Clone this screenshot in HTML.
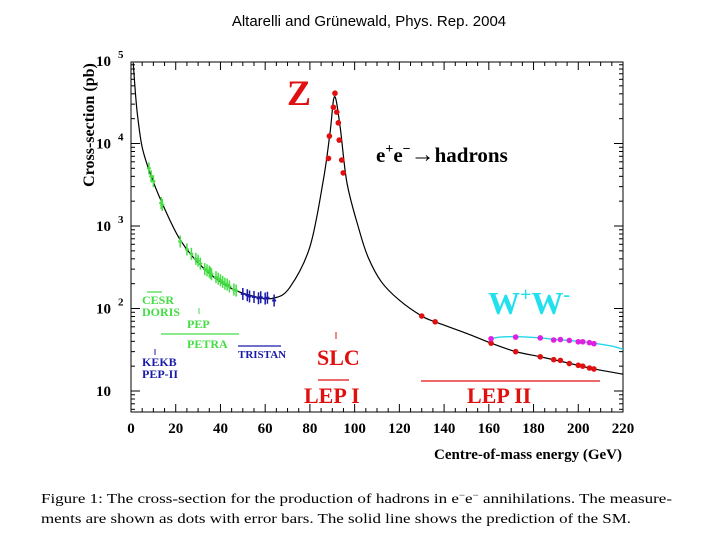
<!DOCTYPE html>
<html><head><meta charset="utf-8"><style>
html,body{margin:0;padding:0;background:#fff;}
svg{display:block;}
</style></head><body>
<svg id="chart" width="720" height="540" viewBox="0 0 720 540" xmlns="http://www.w3.org/2000/svg">
<text x="369" y="26" text-anchor="middle" font-family="Liberation Sans, sans-serif" font-size="15">Altarelli and Grünewald, Phys. Rep. 2004</text>
<g id="plot"></g>
<text transform="translate(94,125) rotate(-90)" text-anchor="middle" font-family="Liberation Serif, serif" font-weight="bold" font-size="16">Cross-section (pb)</text>
<text x="622" y="459" text-anchor="end" font-family="Liberation Serif, serif" font-weight="bold" font-size="15">Centre-of-mass energy (GeV)</text>
<text x="287" y="105" font-family="Liberation Serif, serif" font-weight="bold" font-size="36" fill="#e01010">Z</text>
<text x="376" y="162" font-family="Liberation Serif, serif" font-weight="bold" font-size="21">e<tspan dy="-9" font-size="14">+</tspan><tspan dy="9">e</tspan><tspan dy="-9" font-size="14">−</tspan><tspan dy="9" font-size="24">→</tspan><tspan>hadrons</tspan></text>
<text x="488" y="314" font-family="Liberation Serif, serif" font-weight="bold" font-size="32" fill="#22e0ee">W<tspan dy="-13" font-size="20">+</tspan><tspan dy="13">W</tspan><tspan dy="-13" font-size="20">-</tspan></text>
<g font-family="Liberation Serif, serif" font-weight="bold">
<line x1="147" y1="292" x2="162" y2="292" stroke="#44dd44" stroke-width="1.2"/>
<text x="142" y="304" font-size="12" fill="#44dd44">CESR</text>
<text x="142" y="316" font-size="12" fill="#44dd44">DORIS</text>
<line x1="199" y1="308" x2="199" y2="314" stroke="#44dd44"/>
<text x="187" y="328" font-size="12" fill="#44dd44">PEP</text>
<line x1="161" y1="334" x2="239" y2="334" stroke="#44dd44" stroke-width="1.2"/>
<text x="187" y="348" font-size="12" fill="#44dd44">PETRA</text>
<line x1="238" y1="346" x2="281" y2="346" stroke="#1a1aaa" stroke-width="1.2"/>
<text x="238" y="358" font-size="11" fill="#1a1aaa">TRISTAN</text>
<line x1="155" y1="349" x2="155" y2="355" stroke="#1a1aaa"/>
<text x="142" y="366" font-size="12" fill="#1a1aaa">KEKB</text>
<text x="142" y="378" font-size="12" fill="#1a1aaa">PEP-II</text>
<line x1="336" y1="332" x2="336" y2="339" stroke="#e01010"/>
<text x="317" y="365" font-size="22" fill="#e01010">SLC</text>
<line x1="318" y1="380" x2="349" y2="380" stroke="#e01010" stroke-width="1.2"/>
<text x="304" y="403" font-size="22" fill="#e01010">LEP I</text>
<line x1="421" y1="381" x2="600" y2="381" stroke="#e01010" stroke-width="1.2"/>
<text x="467" y="403" font-size="22" fill="#e01010">LEP II</text>
</g>
<g font-family="Liberation Serif, serif" font-size="14">
<text x="41" y="503" textLength="631" lengthAdjust="spacingAndGlyphs">Figure 1: The cross-section for the production of hadrons in e<tspan dy="-5" font-size="9">−</tspan><tspan dy="5">e</tspan><tspan dy="-5" font-size="9">−</tspan><tspan dy="5"> annihilations. The measure-</tspan></text>
<text x="41" y="523" textLength="590" lengthAdjust="spacingAndGlyphs">ments are shown as dots with error bars. The solid line shows the prediction of the SM.</text>
</g>
</svg>
<script>
const curveE = [1,2,3,5,8.5,13.9,22,32,44,56,64,71,80,86,89,91,93.5,96.6,102,106,112,120,130,136,150,161,172,183,195,207,220];
const curveSigma = [95000,40000,21000,9000,4400,1900,680,316,180,138,134,180,560,3600,13500,37000,16000,3300,900,420,210,126,81,69,50,38,30,26,22,18.5,16];
const wwE = [161,165,172,183,190,196,200,207,215,220];
const wwSigma = [43,45,45.5,44,42,41,40,38,35,32];
const greenE = [8,9,10,13.5,14,22,25,27,29,30,31,33,34,35,35.5,36,38,39,40,41,42,43,44,46,47];
const greenSigma = [5000,4000,3500,1900,1800,650,520,460,400,380,350,300,290,280,270,260,240,230,220,210,200,195,185,170,165];
const blueE = [50,52,53,55,57,58,60,61,64];
const blueSigma = [150,145,140,138,133,137,132,135,125];
const zE = [88.3,88.7,90.5,91.2,92.0,92.7,93.1,94.2,94.9];
const zSigma = [6600,12300,27500,40700,24000,17800,11000,6300,4400];
const lepE = [130,136,161,172,183,189,192,196,200,202,205,207];
const lepSigma = [81,69,38,30,26,24,23.5,21.5,20.5,20,19,18.5];
const wwDataE = [161,172,183,189,192,196,200,202,205,207];
const wwDataSigma = [43,45,44,41.5,42,41,39.5,39.5,38.5,37.5];
const xTicks = [0,20,40,60,80,100,120,140,160,180,200,220];

const X0=131,X1=623,Y1=62,Y0=412;
const sx = e => X0 + (e/220)*(X1-X0);
const sy = v => 391 - (Math.log10(v)-1)*82.5;
const NS='http://www.w3.org/2000/svg';
const plot=document.getElementById('plot');
function mk(tag,attrs,parent){const el=document.createElementNS(NS,tag);for(const k in attrs)el.setAttribute(k,attrs[k]);(parent||plot).appendChild(el);return el;}
function smooth(pts){let d='M'+pts[0][0]+','+pts[0][1];for(let i=0;i<pts.length-1;i++){const p0=pts[Math.max(0,i-1)],p1=pts[i],p2=pts[i+1],p3=pts[Math.min(pts.length-1,i+2)];const c1=[p1[0]+(p2[0]-p0[0])/6,p1[1]+(p2[1]-p0[1])/6];const c2=[p2[0]-(p3[0]-p1[0])/6,p2[1]-(p3[1]-p1[1])/6];d+=' C'+c1[0]+','+c1[1]+' '+c2[0]+','+c2[1]+' '+p2[0]+','+p2[1];}return d;}

const clip=mk('clipPath',{id:'cl'});mk('rect',{x:X0,y:Y1,width:X1-X0,height:Y0-Y1},clip);
const frame=mk('rect',{x:X0,y:Y1,width:X1-X0,height:Y0-Y1,fill:'none',stroke:'#000','stroke-width':1});


for(let e=0;e<=220;e+=5){const big=e%20===0;const len=big?8:4;
 mk('line',{x1:sx(e),x2:sx(e),y1:Y0,y2:Y0-len,stroke:'#000'});
 mk('line',{x1:sx(e),x2:sx(e),y1:Y1,y2:Y1+len,stroke:'#000'});}
xTicks.forEach(e=>{const t=mk('text',{x:sx(e),y:433,'text-anchor':'middle','font-family':'Liberation Serif, serif','font-weight':'bold','font-size':15});t.textContent=String(e);
 
 });
for(let dec=0;dec<=5;dec++){for(let m=1;m<10;m++){const v=m*Math.pow(10,dec);const y=sy(v);if(y<Y1-0.5||y>Y0+0.5)continue;const len=m===1?9:4;
 mk('line',{x1:X0,x2:X0+len,y1:y,y2:y,stroke:'#000'});mk('line',{x1:X1,x2:X1-len,y1:y,y2:y,stroke:'#000'});}}
[1,2,3,4,5].forEach(p=>{const y=sy(Math.pow(10,p));const t=mk('text',{x:96,y:y+5,'font-family':'Liberation Serif, serif','font-weight':'bold','font-size':15});t.textContent='10';
 
 
 if(p>1){const s=mk('text',{x:118,y:y-3,'font-family':'Liberation Serif, serif','font-weight':'bold','font-size':11});s.textContent=String(p);}});
const g=mk('g',{'clip-path':'url(#cl)'});
const sm=mk('path',{d:smooth(curveE.map((e,i)=>[sx(e),sy(curveSigma[i])])),fill:'none',stroke:'#000','stroke-width':1.2},g);


const ww=mk('path',{d:smooth(wwE.map((e,i)=>[sx(e),sy(wwSigma[i])])),fill:'none',stroke:'#22d8e8','stroke-width':1.4},g);


function bars(E,S,col,name){E.forEach((e,i)=>{const x=sx(e),y=sy(S[i]);
 const l=mk('line',{x1:x,x2:x,y1:y-6,y2:y+6,stroke:col,'stroke-width':1.5},g);
 
 
 mk('line',{x1:x-2,x2:x+2,y1:y,y2:y,stroke:col,'stroke-width':2},g);});}
bars(greenE,greenSigma,'#44dd44','low-energy-point');
bars(blueE,blueSigma,'#1a1aaa','tristan-point');
function dots(E,S,col,name){E.forEach((e,i)=>{const c=mk('circle',{cx:sx(e),cy:sy(S[i]),r:2.8,fill:col},g);
 
 });}
dots(zE,zSigma,'#e01010','z-pole-point');
dots(lepE,lepSigma,'#e01010','lep2-point');
dots(wwDataE,wwDataSigma,'#e020e0','ww-point');
</script>
</body></html>
